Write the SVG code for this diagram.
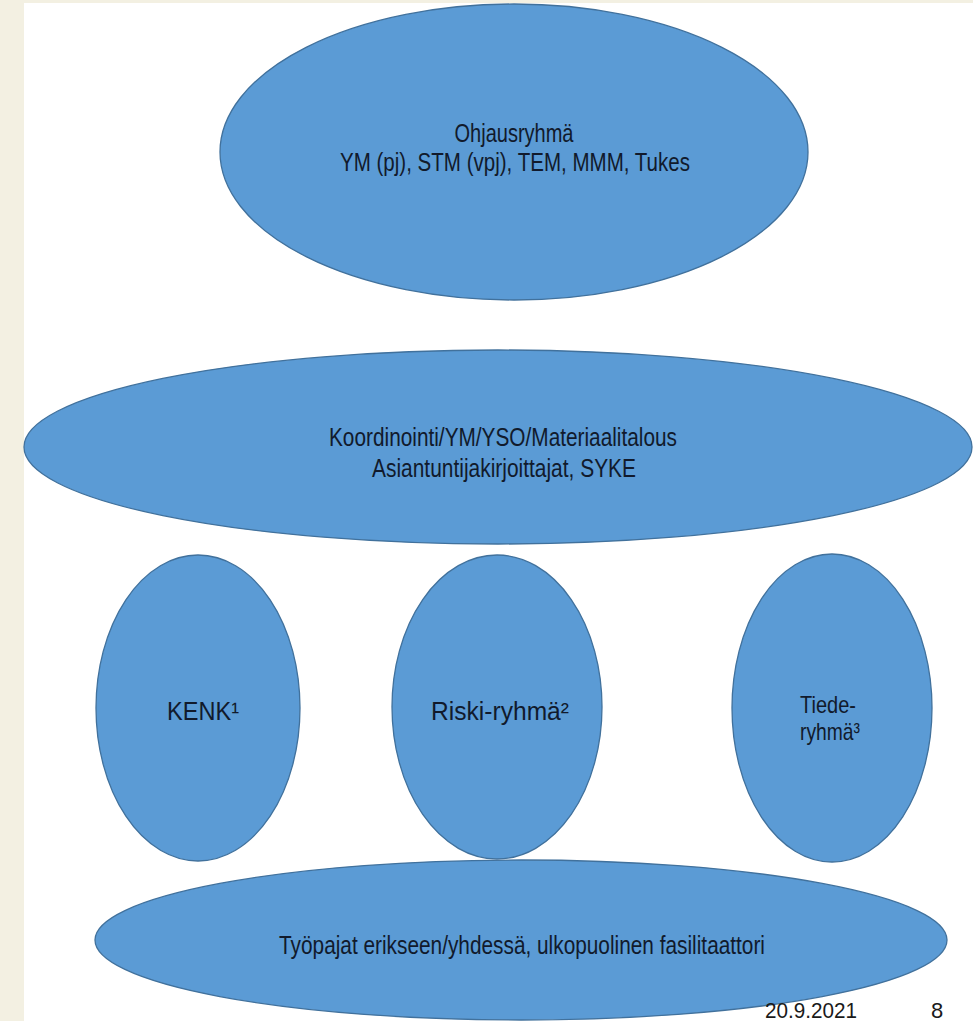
<svg xmlns="http://www.w3.org/2000/svg" width="973" height="1021" viewBox="0 0 973 1021">
<style>
.n{fill:#5b9bd5;stroke:#41719c;stroke-width:1.3}
.t{font-family:"Liberation Sans",Arial,sans-serif;font-size:25px;fill:#111a2c;text-anchor:middle}
.u{font-family:"Liberation Sans",Arial,sans-serif;font-size:24px;fill:#111a2c;text-anchor:middle}
.f{font-family:"Liberation Sans",Arial,sans-serif;font-size:22px;fill:#1a1a1a}
</style>
<rect width="973" height="1021" fill="#ffffff"/>
<rect x="0" y="0" width="973" height="3" fill="#f3f0e2"/>
<rect x="0" y="0" width="24" height="1021" fill="#f3f0e2"/>
<g id="connectors"></g>
<g id="ohjausryhma">
<ellipse class="n" cx="514" cy="152" rx="294" ry="148"/>
<text class="t" x="514" y="142" textLength="119" lengthAdjust="spacingAndGlyphs">Ohjausryhmä</text>
<text class="t" x="515" y="171" textLength="350" lengthAdjust="spacingAndGlyphs">YM (pj), STM (vpj), TEM, MMM, Tukes</text>
</g>
<g id="koordinointi">
<ellipse class="n" cx="498" cy="447" rx="474" ry="97"/>
<text class="t" x="503" y="446" textLength="348" lengthAdjust="spacingAndGlyphs">Koordinointi/YM/YSO/Materiaalitalous</text>
<text class="t" x="504" y="477" textLength="264" lengthAdjust="spacingAndGlyphs">Asiantuntijakirjoittajat,  SYKE</text>
</g>
<g id="kenk">
<ellipse class="n" cx="198" cy="708" rx="102" ry="153"/>
<text class="t" x="203" y="720" textLength="72" lengthAdjust="spacingAndGlyphs">KENK¹</text>
</g>
<g id="riski">
<ellipse class="n" cx="497" cy="707" rx="105" ry="152"/>
<text class="t" x="500" y="720" textLength="138" lengthAdjust="spacingAndGlyphs">Riski-ryhmä²</text>
</g>
<g id="tiede">
<ellipse class="n" cx="832" cy="708" rx="100" ry="154"/>
<text class="u" x="828" y="713" textLength="56" lengthAdjust="spacingAndGlyphs">Tiede-</text>
<text class="u" x="830" y="740" textLength="60" lengthAdjust="spacingAndGlyphs">ryhmä³</text>
</g>
<g id="tyopajat">
<ellipse class="n" cx="521" cy="940" rx="426" ry="80"/>
<text class="t" x="522" y="954" textLength="486" lengthAdjust="spacingAndGlyphs">Työpajat erikseen/yhdessä, ulkopuolinen  fasilitaattori</text>
</g>
<g id="footer">
<text class="f" x="765" y="1018" textLength="92" lengthAdjust="spacingAndGlyphs">20.9.2021</text>
<text class="f" x="931" y="1018">8</text>
</g>
</svg>
